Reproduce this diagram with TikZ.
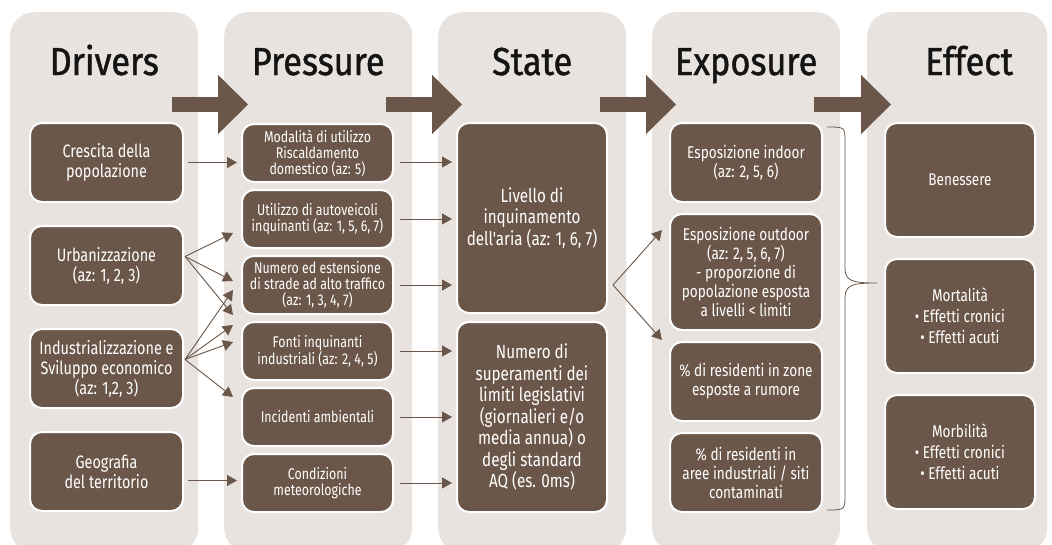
\documentclass[tikz,border=0pt]{standalone}
\usepackage{fontspec}
\setmainfont{Fira Sans}
\newfontfamily\condfont{Fira Sans}[FakeStretch=0.8]
\newfontfamily\titlefont{Fira Sans}[FakeStretch=0.88,FakeBold=1.2]
\usetikzlibrary{arrows.meta,positioning}
\definecolor{cbrown}{HTML}{6B5749}
\definecolor{cpanel}{HTML}{E8E3DF}
\definecolor{ctitle}{HTML}{141414}

\begin{document}
\begin{tikzpicture}[
    x=1pt, y=-1pt,
    colbox/.style={fill=cpanel, rounded corners=24pt, minimum height=540pt, anchor=north west, inner sep=0pt},
    title/.style={font=\titlefont\fontsize{39}{40}\selectfont, text=ctitle, anchor=base, inner sep=0pt},
    box/.style={fill=cbrown, draw=white, line width=2pt, rounded corners=12pt, text=white,
                align=center, inner sep=0pt, outer sep=0pt},
    drvbox/.style={box, minimum width=153pt, minimum height=79pt, font=\condfont\fontsize{18}{20}\selectfont},
    prsbox/.style={box, minimum width=151pt, minimum height=58pt, font=\condfont\fontsize{15.5}{16}\selectfont},
    stbox/.style={box, minimum width=150pt, minimum height=190pt, font=\condfont\fontsize{19}{21.5}\selectfont},
    expbox/.style={box, minimum width=152pt, minimum height=79pt, font=\condfont\fontsize{17}{19}\selectfont},
    effbox/.style={box, minimum width=150pt, minimum height=114pt, font=\condfont\fontsize{17}{21}\selectfont},
    arr/.style={-{Triangle[length=10pt,width=11pt]}, cbrown, line width=0.9pt},
    bigarr/.style={-{Triangle[length=30pt,width=59pt,line width=0.1pt]}, cbrown, line width=15pt},
    bracepath/.style={cbrown, line width=0.8pt},
]
\useasboundingbox (0,0) rectangle (1052,544);
\clip (0,0) rectangle (1052,544);
\fill[white] (0,0) rectangle (1052,544);

% Columns
\node[colbox, minimum width=188pt] (drvcol) at (10,12) {};
\node[colbox, minimum width=188pt] (prscol) at (224,12) {};
\node[colbox, minimum width=188pt] (stcol)  at (438,12) {};
\node[colbox, minimum width=188pt] (expcol) at (652,12) {};
\node[colbox, minimum width=180pt] (effcol) at (867,12) {};

% Titles
\node[title] (drvtitle) at ([yshift=-63pt]drvcol.north) {Drivers};
\node[title] (prstitle) at ([yshift=-63pt]prscol.north) {Pressure};
\node[title] (sttitle)  at ([yshift=-63pt]stcol.north)  {State};
\node[title] (exptitle) at ([yshift=-63pt]expcol.north) {Exposure};
\node[title] (efftitle) at ([xshift=12pt,yshift=-63pt]effcol.north) {Effect};

% Big arrows between columns
\draw[bigarr] ([xshift=-26pt,yshift=-92.5pt]drvcol.north east) -- ([xshift=24pt,yshift=-92.5pt]prscol.north west);
\draw[bigarr] ([xshift=-26pt,yshift=-92.5pt]prscol.north east) -- ([xshift=24pt,yshift=-92.5pt]stcol.north west);
\draw[bigarr] ([xshift=-26pt,yshift=-92.5pt]stcol.north east)  -- ([xshift=24pt,yshift=-92.5pt]expcol.north west);
\draw[bigarr] ([xshift=-26pt,yshift=-92.5pt]expcol.north east) -- ([xshift=24pt,yshift=-92.5pt]effcol.north west);

% Drivers
\node[drvbox] (cresc) at (106.5,162.5) {Crescita della\\popolazione};
\node[drvbox, below=24pt of cresc] (urb) {Urbanizzazione\\(az: 1, 2, 3)};
\node[drvbox, below=24pt of urb]   (ind) {Industrializzazione e\\Sviluppo economico\\(az: 1,2, 3)};
\node[drvbox, below=24pt of ind]   (geo) {Geografia\\del territorio};

% Pressure
\node[prsbox] (modal) at (317.5,153) {Modalità di utilizzo\\Riscaldamento\\domestico (az: 5)};
\node[prsbox, below=8pt of modal]  (util)  {Utilizzo di autoveicoli\\inquinanti (az: 1, 5, 6, 7)};
\node[prsbox, below=8pt of util]   (strad) {Numero ed estensione\\di strade ad alto traffico\\(az: 1, 3, 4, 7)};
\node[prsbox, below=8pt of strad]  (fonti) {Fonti inquinanti\\industriali (az: 2, 4, 5)};
\node[prsbox, below=8pt of fonti]  (incid) {Incidenti ambientali};
\node[prsbox, below=8pt of incid]  (meteo) {Condizioni\\meteorologiche};

% State
\node[stbox] (livello) at (532,218) {Livello di\\inquinamento\\dell'aria (az: 1, 6, 7)};
\node[stbox, below=9pt of livello] (superam) {Numero di\\superamenti dei\\limiti legislativi\\(giornalieri e/o\\media annua) o\\degli standard\\AQ (es. 0ms)};

% Exposure
\node[expbox] (indoor) at (746,162.5) {Esposizione indoor\\(az: 2, 5, 6)};
\node[expbox, below=12pt of indoor, minimum height=116pt] (outdoor) {Esposizione outdoor\\(az: 2, 5, 6, 7)\\- proporzione di\\popolazione esposta\\a livelli < limiti};
\node[expbox, below=12pt of outdoor] (rumore) {\% di residenti in zone\\esposte a rumore};
\node[expbox, below=12pt of rumore]  (siti)   {\% di residenti in\\aree industriali / siti\\contaminati};

% Effect
\node[effbox] (benes) at (960,180) {Benessere};
\node[effbox, below=22pt of benes] (mort) {Mortalità\\\textbullet{} Effetti cronici\\\textbullet{} Effetti acuti};
\node[effbox, below=22pt of mort]  (morb) {Morbilità\\\textbullet{} Effetti cronici\\\textbullet{} Effetti acuti};

% Drivers -> Pressure
\draw[arr] ([xshift=5pt]cresc.east) -- ([xshift=-5pt]cresc.east -| modal.west);
\draw[arr] ([xshift=5pt,yshift=-9pt]geo.east) -- ([xshift=-5pt,yshift=-9pt]geo.east -| meteo.west);
\coordinate (urbfan) at ([xshift=2pt,yshift=9pt]urb.east);
\draw[arr] (urbfan) -- ([xshift=-9pt,yshift=-14pt]util.west);
\draw[arr] (urbfan) -- ([xshift=-9pt,yshift=4pt]strad.west);
\draw[arr] (urbfan) -- ([xshift=-9pt,yshift=-30pt]strad.west);
\coordinate (indfan) at ([xshift=2pt,yshift=9pt]ind.east);
\draw[arr] (indfan) -- ([xshift=-9pt,yshift=-5pt]strad.west);
\draw[arr] (indfan) -- ([xshift=-9pt,yshift=26pt]fonti.west);
\draw[arr] (indfan) -- ([xshift=-9pt,yshift=9pt]fonti.west);
\draw[arr] (indfan) -- ([xshift=-9pt,yshift=20pt]incid.west);

% Pressure -> State
\draw[arr] ([xshift=7pt,yshift=-9pt]modal.east) -- ([xshift=-5pt,yshift=-9pt]modal.east -| livello.west);
\draw[arr] ([xshift=7pt]util.east)  -- ([xshift=-5pt]util.east -| livello.west);
\draw[arr] ([xshift=7pt]strad.east) -- ([xshift=-5pt]strad.east -| livello.west);
\draw[arr] ([xshift=7pt]fonti.east) -- ([xshift=-5pt]fonti.east -| superam.west);
\draw[arr] ([xshift=7pt]incid.east) -- ([xshift=-5pt]incid.east -| superam.west);
\draw[arr] ([xshift=7pt]meteo.east) -- ([xshift=-5pt]meteo.east -| superam.west);

% State -> Exposure
\coordinate (stfan) at ([xshift=6pt,yshift=-67pt]livello.east);
\draw[arr] (stfan) -- ([xshift=-8pt,yshift=42pt]outdoor.west);
\draw[arr] (stfan) -- ([xshift=-8pt,yshift=-68pt]outdoor.west);

% Brace Exposure -> Effect
\draw[bracepath] (827,127) .. controls (845,127) .. (845,142) -- (845,268)
    .. controls (845,281) and (852,283) .. (877,283)
    .. controls (852,283) and (845,285) .. (845,298) -- (845,494)
    .. controls (845,510) .. (827,510);

\end{tikzpicture}
\end{document}
